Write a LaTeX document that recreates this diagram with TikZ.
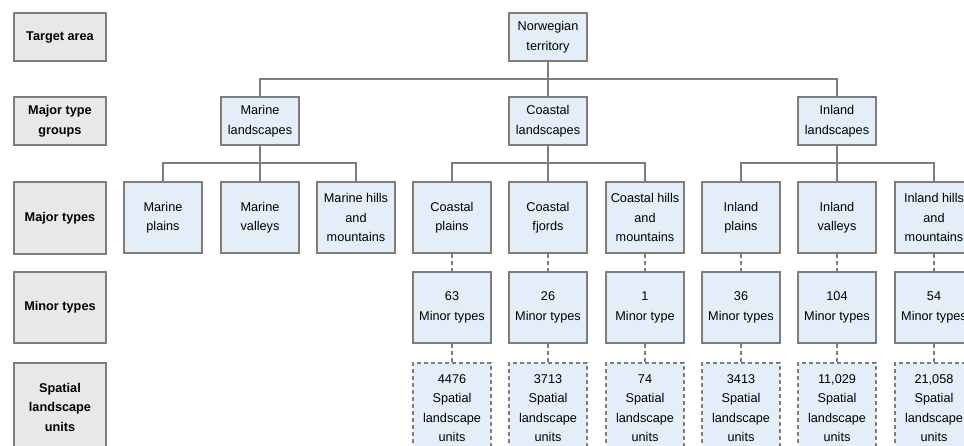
\documentclass[tikz,border=0pt]{standalone}
\usepackage{fontspec}
\setmainfont{Liberation Sans}
\definecolor{boxblue}{RGB}{228,238,248}
\definecolor{boxgray}{RGB}{232,232,232}
\definecolor{linegray}{RGB}{125,125,125}
\tikzset{
  base/.style={draw=linegray, line width=1.3pt, inner sep=0pt, align=center,
    font=\fontsize{12.7}{19.5}\selectfont},
  level/.style={base, fill=boxgray, minimum width=92pt,
    font=\fontsize{12.7}{19.5}\selectfont\bfseries},
  unit/.style={base, fill=boxblue, minimum width=78pt},
  unitd/.style={unit, dash pattern=on 4pt off 3pt},
  link/.style={draw=linegray, line width=1.3pt},
  dlink/.style={link, dash pattern=on 4pt off 3pt}
}
\begin{document}
\begin{tikzpicture}[x=1pt,y=-1pt]
\clip (0,0) rectangle (964,446);

% row labels
\node[level, minimum height=48pt] (lta) at (60,37) {Target area};
\node[level, minimum height=48pt] (lgr) at (60,121) {Major type\\groups};
\node[level, minimum height=72pt] (lmt) at (60,218) {Major types};
\node[level, minimum height=71pt] (lmi) at (60,307.5) {Minor types};
\node[level, minimum height=88pt] (lsu) at (60,407) {Spatial\\landscape\\units};

% target area and groups
\node[unit, minimum height=48pt] (nor) at (548,37) {Norwegian\\territory};
\node[unit, minimum height=48pt] (mar) at (260,121) {Marine\\landscapes};
\node[unit, minimum height=48pt] (coa) at (548,121) {Coastal\\landscapes};
\node[unit, minimum height=48pt] (inl) at (837,121) {Inland\\landscapes};

% major types
\node[unit, minimum height=71pt] (mpl) at (163,217.5) {Marine\\plains};
\node[unit, minimum height=71pt] (mva) at (260,217.5) {Marine\\valleys};
\node[unit, minimum height=71pt] (mhi) at (356,217.5) {Marine hills\\and\\mountains};
\node[unit, minimum height=71pt] (cpl) at (452,217.5) {Coastal\\plains};
\node[unit, minimum height=71pt] (cfj) at (548,217.5) {Coastal\\fjords};
\node[unit, minimum height=71pt] (chi) at (645,217.5) {Coastal hills\\and\\mountains};
\node[unit, minimum height=71pt] (ipl) at (741,217.5) {Inland\\plains};
\node[unit, minimum height=71pt] (iva) at (837,217.5) {Inland\\valleys};
\node[unit, minimum height=71pt] (ihi) at (934,217.5) {Inland hills\\and\\mountains};

% minor types
\node[unit, minimum height=71pt] (cplm) at (452,307.5) {63\\Minor types};
\node[unit, minimum height=71pt] (cfjm) at (548,307.5) {26\\Minor types};
\node[unit, minimum height=71pt] (chim) at (645,307.5) {1\\Minor type};
\node[unit, minimum height=71pt] (iplm) at (741,307.5) {36\\Minor types};
\node[unit, minimum height=71pt] (ivam) at (837,307.5) {104\\Minor types};
\node[unit, minimum height=71pt] (ihim) at (934,307.5) {54\\Minor types};

% spatial landscape units
\node[unitd, minimum height=90pt] (cplu) at (452,408) {4476\\Spatial\\landscape\\units};
\node[unitd, minimum height=90pt] (cfju) at (548,408) {3713\\Spatial\\landscape\\units};
\node[unitd, minimum height=90pt] (chiu) at (645,408) {74\\Spatial\\landscape\\units};
\node[unitd, minimum height=90pt] (iplu) at (741,408) {3413\\Spatial\\landscape\\units};
\node[unitd, minimum height=90pt] (ivau) at (837,408) {11,029\\Spatial\\landscape\\units};
\node[unitd, minimum height=90pt] (ihiu) at (934,408) {21,058\\Spatial\\landscape\\units};

% tree lines
\coordinate (j1) at (548,79);
\coordinate (j2) at (260,163);
\coordinate (j3) at (548,163);
\coordinate (j4) at (837,163);
\draw[link] (nor) -- (j1);
\draw[link] (mar.north) |- (j1) -| (inl.north);
\draw[link] (coa) -- (j1);
\draw[link] (mar) -- (j2);
\draw[link] (mpl.north) |- (j2) -| (mhi.north);
\draw[link] (mva) -- (j2);
\draw[link] (coa) -- (j3);
\draw[link] (cpl.north) |- (j3) -| (chi.north);
\draw[link] (cfj) -- (j3);
\draw[link] (inl) -- (j4);
\draw[link] (ipl.north) |- (j4) -| (ihi.north);
\draw[link] (iva) -- (j4);

% dashed links
\draw[dlink] (cpl) -- (cplm);
\draw[dlink] (cfj) -- (cfjm);
\draw[dlink] (chi) -- (chim);
\draw[dlink] (ipl) -- (iplm);
\draw[dlink] (iva) -- (ivam);
\draw[dlink] (ihi) -- (ihim);
\draw[dlink] (cplm) -- (cplu);
\draw[dlink] (cfjm) -- (cfju);
\draw[dlink] (chim) -- (chiu);
\draw[dlink] (iplm) -- (iplu);
\draw[dlink] (ivam) -- (ivau);
\draw[dlink] (ihim) -- (ihiu);

\end{tikzpicture}
\end{document}
